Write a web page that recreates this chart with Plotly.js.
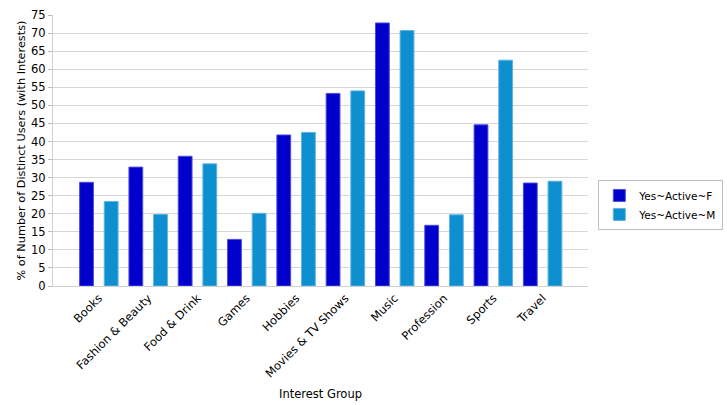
<!DOCTYPE html>
<html>
<head>
<meta charset="utf-8">
<script src="https://cdn.plot.ly/plotly-3.0.1.min.js"></script>
<style>html,body{margin:0;padding:0;background:#fff;}#chart{width:727px;height:405px;}</style>
</head>
<body>
<div id="chart"></div>
<script>
const categories = ["Books", "Fashion & Beauty", "Food & Drink", "Games", "Hobbies", "Movies & TV Shows", "Music", "Profession", "Sports", "Travel"];
const seriesNames = ["Yes~Active~F", "Yes~Active~M"];
const femaleValues = [28.7, 32.9, 35.9, 12.9, 41.8, 53.3, 72.8, 16.8, 44.6, 28.5];
const maleValues = [23.4, 19.8, 33.8, 20.1, 42.5, 54.0, 70.7, 19.7, 62.5, 29.0];
const yTicks = [0,5,10,15,20,25,30,35,40,45,50,55,60,65,70,75];

const font = "DejaVu Sans, Verdana, sans-serif";
const traces = [
  {type:"bar", name:seriesNames[0], x:categories, y:femaleValues, width:0.28, offset:-0.39,
   marker:{color:"#0000cc", line:{color:"#4d4ddb", width:1}}},
  {type:"bar", name:seriesNames[1], x:categories, y:maleValues, width:0.28, offset:0.11,
   marker:{color:"#0e8fd0", line:{color:"#5fb3e0", width:1}}}
];
const layout = {
  width:727, height:405,
  margin:{l:53, r:139, t:15, b:119},
  paper_bgcolor:"#fff", plot_bgcolor:"#fff",
  font:{family:font, size:11, color:"#000"},
  barmode:"overlay",
  showlegend:true,
  legend:{xref:"container", yref:"container", x:0.823, xanchor:"left", y:0.494, yanchor:"middle",
    bordercolor:"#c0c0c0", borderwidth:1, font:{family:font, size:10.5}, itemwidth:30, tracegroupgap:0},
  xaxis:{type:"category", range:[-0.93, 9.92], tickangle:-45, ticks:"", showgrid:false,
    showline:true, linecolor:"#d0d0d0", linewidth:1, tickfont:{family:font, size:11.5},
    title:{text:"Interest Group", font:{family:font, size:11.5}, standoff:10}, automargin:false},
  yaxis:{range:[0,75], tickvals:yTicks, ticks:"outside", ticklen:4, tickcolor:"#bbbbbb",
    showgrid:true, gridcolor:"#d6d6d6", zeroline:false, showline:true, linecolor:"#d0d0d0",
    tickfont:{family:font, size:11.5}, title:{text:"% of Number of Distinct Users (with Interests)", font:{family:font, size:11.3}, standoff:3}, automargin:false}
};
Plotly.newPlot("chart", traces, layout, {displayModeBar:false, staticPlot:true});
</script>
</body>
</html>
